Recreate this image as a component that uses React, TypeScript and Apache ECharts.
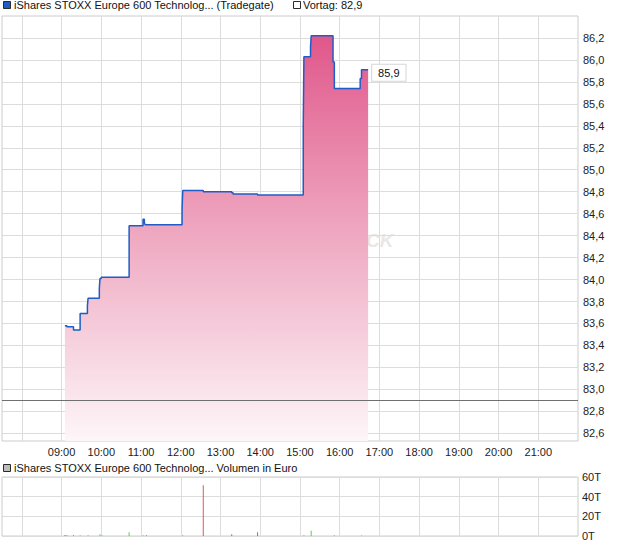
import React, { useEffect, useRef } from "react";
import * as echarts from "echarts";

// ---- data ----
const priceTimes = [
  "09:05", "09:08", "09:18", "09:28", "09:39", "09:40", "09:57", "09:58", "10:00",
  "10:42", "11:03", "11:05", "11:06", "12:02", "12:03", "12:34", "13:17", "13:19",
  "13:56", "15:05", "15:06", "15:16", "15:17", "15:50", "15:52", "16:31", "16:33", "16:43",
];
const priceValues = [
  83.58, 83.57, 83.54, 83.69, 83.76, 83.83, 83.92, 84.01, 84.02,
  84.49, 84.55, 84.52, 84.5, 84.65, 84.81, 84.8, 84.79, 84.78,
  84.77, 85.4, 86.03, 86.12, 86.22, 85.98, 85.74, 85.83, 85.91, 85.91,
];
const volTimes = [
  "09:05", "09:08", "09:18", "09:28", "09:40", "09:58", "10:01", "10:42", "11:03",
  "11:08", "12:03", "12:34", "13:17", "13:56", "15:06", "15:17", "15:52", "16:33",
];
const volValues = [
  1000, 700, 700, 700, 700, 1700, 700, 3700, 700,
  700, 700, 51500, 1700, 3700, 700, 5400, 400, 400,
];
const volDir = [
  "down", "down", "down", "up", "up", "up", "up", "up", "up",
  "down", "up", "down", "down", "down", "up", "up", "down", "up",
];
const xLabelTimes = [
  "09:00", "10:00", "11:00", "12:00", "13:00", "14:00", "15:00",
  "16:00", "17:00", "18:00", "19:00", "20:00", "21:00",
];
const xGridTimes = ["08:00", ...xLabelTimes];
const xRange = ["07:30", "22:00"];
const yTicks = [
  82.6, 82.8, 83.0, 83.2, 83.4, 83.6, 83.8, 84.0, 84.2, 84.4,
  84.6, 84.8, 85.0, 85.2, 85.4, 85.6, 85.8, 86.0, 86.2,
];
const yRange = [82.53, 86.4];
const volTicks = [0, 20000, 40000, 60000];
const prevClose = 82.9;
const lastPrice = 85.9;
const title = "iShares STOXX Europe 600 Technolog... (Tradegate)";
const volTitle = "iShares STOXX Europe 600 Technolog... Volumen in Euro";

// ---- helpers ----
const toMin = (s: string) => {
  const [h, m] = s.split(":").map(Number);
  return h * 60 + m;
};
const fmtTime = (v: number) =>
  `${String(Math.floor(v / 60)).padStart(2, "0")}:${String(Math.round(v % 60)).padStart(2, "0")}`;
const fmtDe = (v: number, d = 1) => v.toFixed(d).replace(".", ",");

const FONT = "'Liberation Sans', Arial, Helvetica, sans-serif";
const GRID_COLOR = "#dcdcdc";

export default function App() {
  const ref = useRef<HTMLDivElement>(null);

  useEffect(() => {
    if (!ref.current) return;
    const chart = echarts.init(ref.current, undefined, { renderer: "svg" });

    const priceData = priceTimes.map((t, i) => [toMin(t), priceValues[i]]);
    const last = priceData[priceData.length - 1];
    const volData = volTimes.map((t, i) => ({
      value: [toMin(t), volValues[i]],
      itemStyle: { color: volDir[i] === "up" ? "#4fd34f" : "#e05555" },
    }));

    const xMin = toMin(xRange[0]);
    const xMax = toMin(xRange[1]);

    const xAxisBase = (gridIndex: number, showLabels: boolean) => ({
      type: "value",
      gridIndex,
      min: xMin,
      max: xMax,
      axisLine: { show: false },
      axisTick: { show: false, customValues: xGridTimes.map(toMin) },
      axisLabel: {
        show: showLabels,
        customValues: xLabelTimes.map(toMin),
        formatter: (v: number) => fmtTime(v),
        color: "#222",
        fontSize: 11,
        fontFamily: FONT,
        margin: 5,
      },
      splitLine: { show: true, lineStyle: { color: GRID_COLOR, width: 1 } },
    });

    chart.setOption({
      animation: false,
      textStyle: { fontFamily: FONT },
      grid: [
        { left: 2, top: 16, width: 576, height: 425, show: true, borderColor: "#cccccc", borderWidth: 1, backgroundColor: "transparent" },
        { left: 2, top: 477, width: 576, height: 59, show: true, borderColor: "#cccccc", borderWidth: 1, backgroundColor: "transparent" },
      ],
      xAxis: [xAxisBase(0, true), xAxisBase(1, false)],
      yAxis: [
        {
          type: "value",
          gridIndex: 0,
          position: "right",
          min: yRange[0],
          max: yRange[1],
          axisLine: { show: false },
          axisTick: { show: false, customValues: yTicks },
          axisLabel: {
            customValues: yTicks,
            formatter: (v: number) => fmtDe(v),
            color: "#222",
            fontSize: 11,
            fontFamily: FONT,
            margin: 5,
          },
          splitLine: { show: true, lineStyle: { color: GRID_COLOR, width: 1 } },
        },
        {
          type: "value",
          gridIndex: 1,
          position: "right",
          min: volTicks[0],
          max: volTicks[volTicks.length - 1],
          interval: 20000,
          axisLine: { show: false },
          axisTick: { show: false },
          axisLabel: {
            formatter: (v: number) => `${v / 1000}T`,
            color: "#222",
            fontSize: 11,
            fontFamily: FONT,
            margin: 4,
          },
          splitLine: { show: true, lineStyle: { color: GRID_COLOR, width: 1 } },
        },
      ],
      graphic: [
        {
          type: "text",
          x: 366,
          y: 240,
          z: 0,
          style: {
            text: "CK",
            font: `italic bold 19px ${FONT}`,
            fill: "#ebe7e3",
            verticalAlign: "middle",
          },
        },
        {
          type: "rect",
          shape: { x: 3.5, y: 1.5, width: 7, height: 7 },
          style: { fill: "#1d5cc6", stroke: "#2a2a2a", lineWidth: 1 },
        },
        {
          type: "text",
          x: 14,
          y: 5,
          style: { text: title, font: `11px ${FONT}`, fill: "#111", verticalAlign: "middle" },
        },
        {
          type: "rect",
          shape: { x: 293.5, y: 1.5, width: 7, height: 7 },
          style: { fill: "#ffffff", stroke: "#2a2a2a", lineWidth: 1 },
        },
        {
          type: "text",
          x: 303,
          y: 5,
          style: {
            text: `Vortag: ${fmtDe(prevClose)}`,
            font: `11px ${FONT}`,
            fill: "#111",
            verticalAlign: "middle",
          },
        },
        {
          type: "rect",
          shape: { x: 3.5, y: 464.5, width: 7, height: 7 },
          style: { fill: "#bdbdbd", stroke: "#2a2a2a", lineWidth: 1 },
        },
        {
          type: "text",
          x: 14,
          y: 468,
          style: { text: volTitle, font: `11px ${FONT}`, fill: "#111", verticalAlign: "middle" },
        },
      ],
      series: [
        {
          type: "line",
          xAxisIndex: 0,
          yAxisIndex: 0,
          data: priceData,
          step: "end",
          showSymbol: false,
          symbol: "none",
          lineStyle: { color: "#1f5cc8", width: 1.5 },
          areaStyle: {
            origin: "start",
            opacity: 1,
            color: new echarts.graphic.LinearGradient(0, 0, 0, 1, [
              { offset: 0, color: "#e0578a" },
              { offset: 0.5, color: "#efaac2" },
              { offset: 1, color: "#fdf6f9" },
            ]),
          },
          markLine: {
            silent: true,
            symbol: "none",
            label: { show: false },
            lineStyle: { color: "#707070", width: 1, type: "solid" },
            data: [{ yAxis: prevClose }],
          },
          markPoint: {
            symbol: "circle",
            symbolSize: 0,
            data: [{ coord: last, value: lastPrice }],
            label: {
              show: true,
              position: "right",
              distance: 4,
              offset: [0, 3],
              formatter: () => fmtDe(lastPrice),
              color: "#111",
              fontSize: 11,
              fontFamily: FONT,
              backgroundColor: "#ffffff",
              borderColor: "#d6d6d6",
              borderWidth: 1,
              padding: [3, 6, 2, 6],
            },
          },
        },
        {
          type: "bar",
          xAxisIndex: 1,
          yAxisIndex: 1,
          data: volData,
          barWidth: 1,
        },
      ],
    });

    return () => chart.dispose();
  }, []);

  return (
    <div
      ref={ref}
      style={{ position: "fixed", left: 0, top: 0, width: 620, height: 546, background: "#fff" }}
    />
  );
}
